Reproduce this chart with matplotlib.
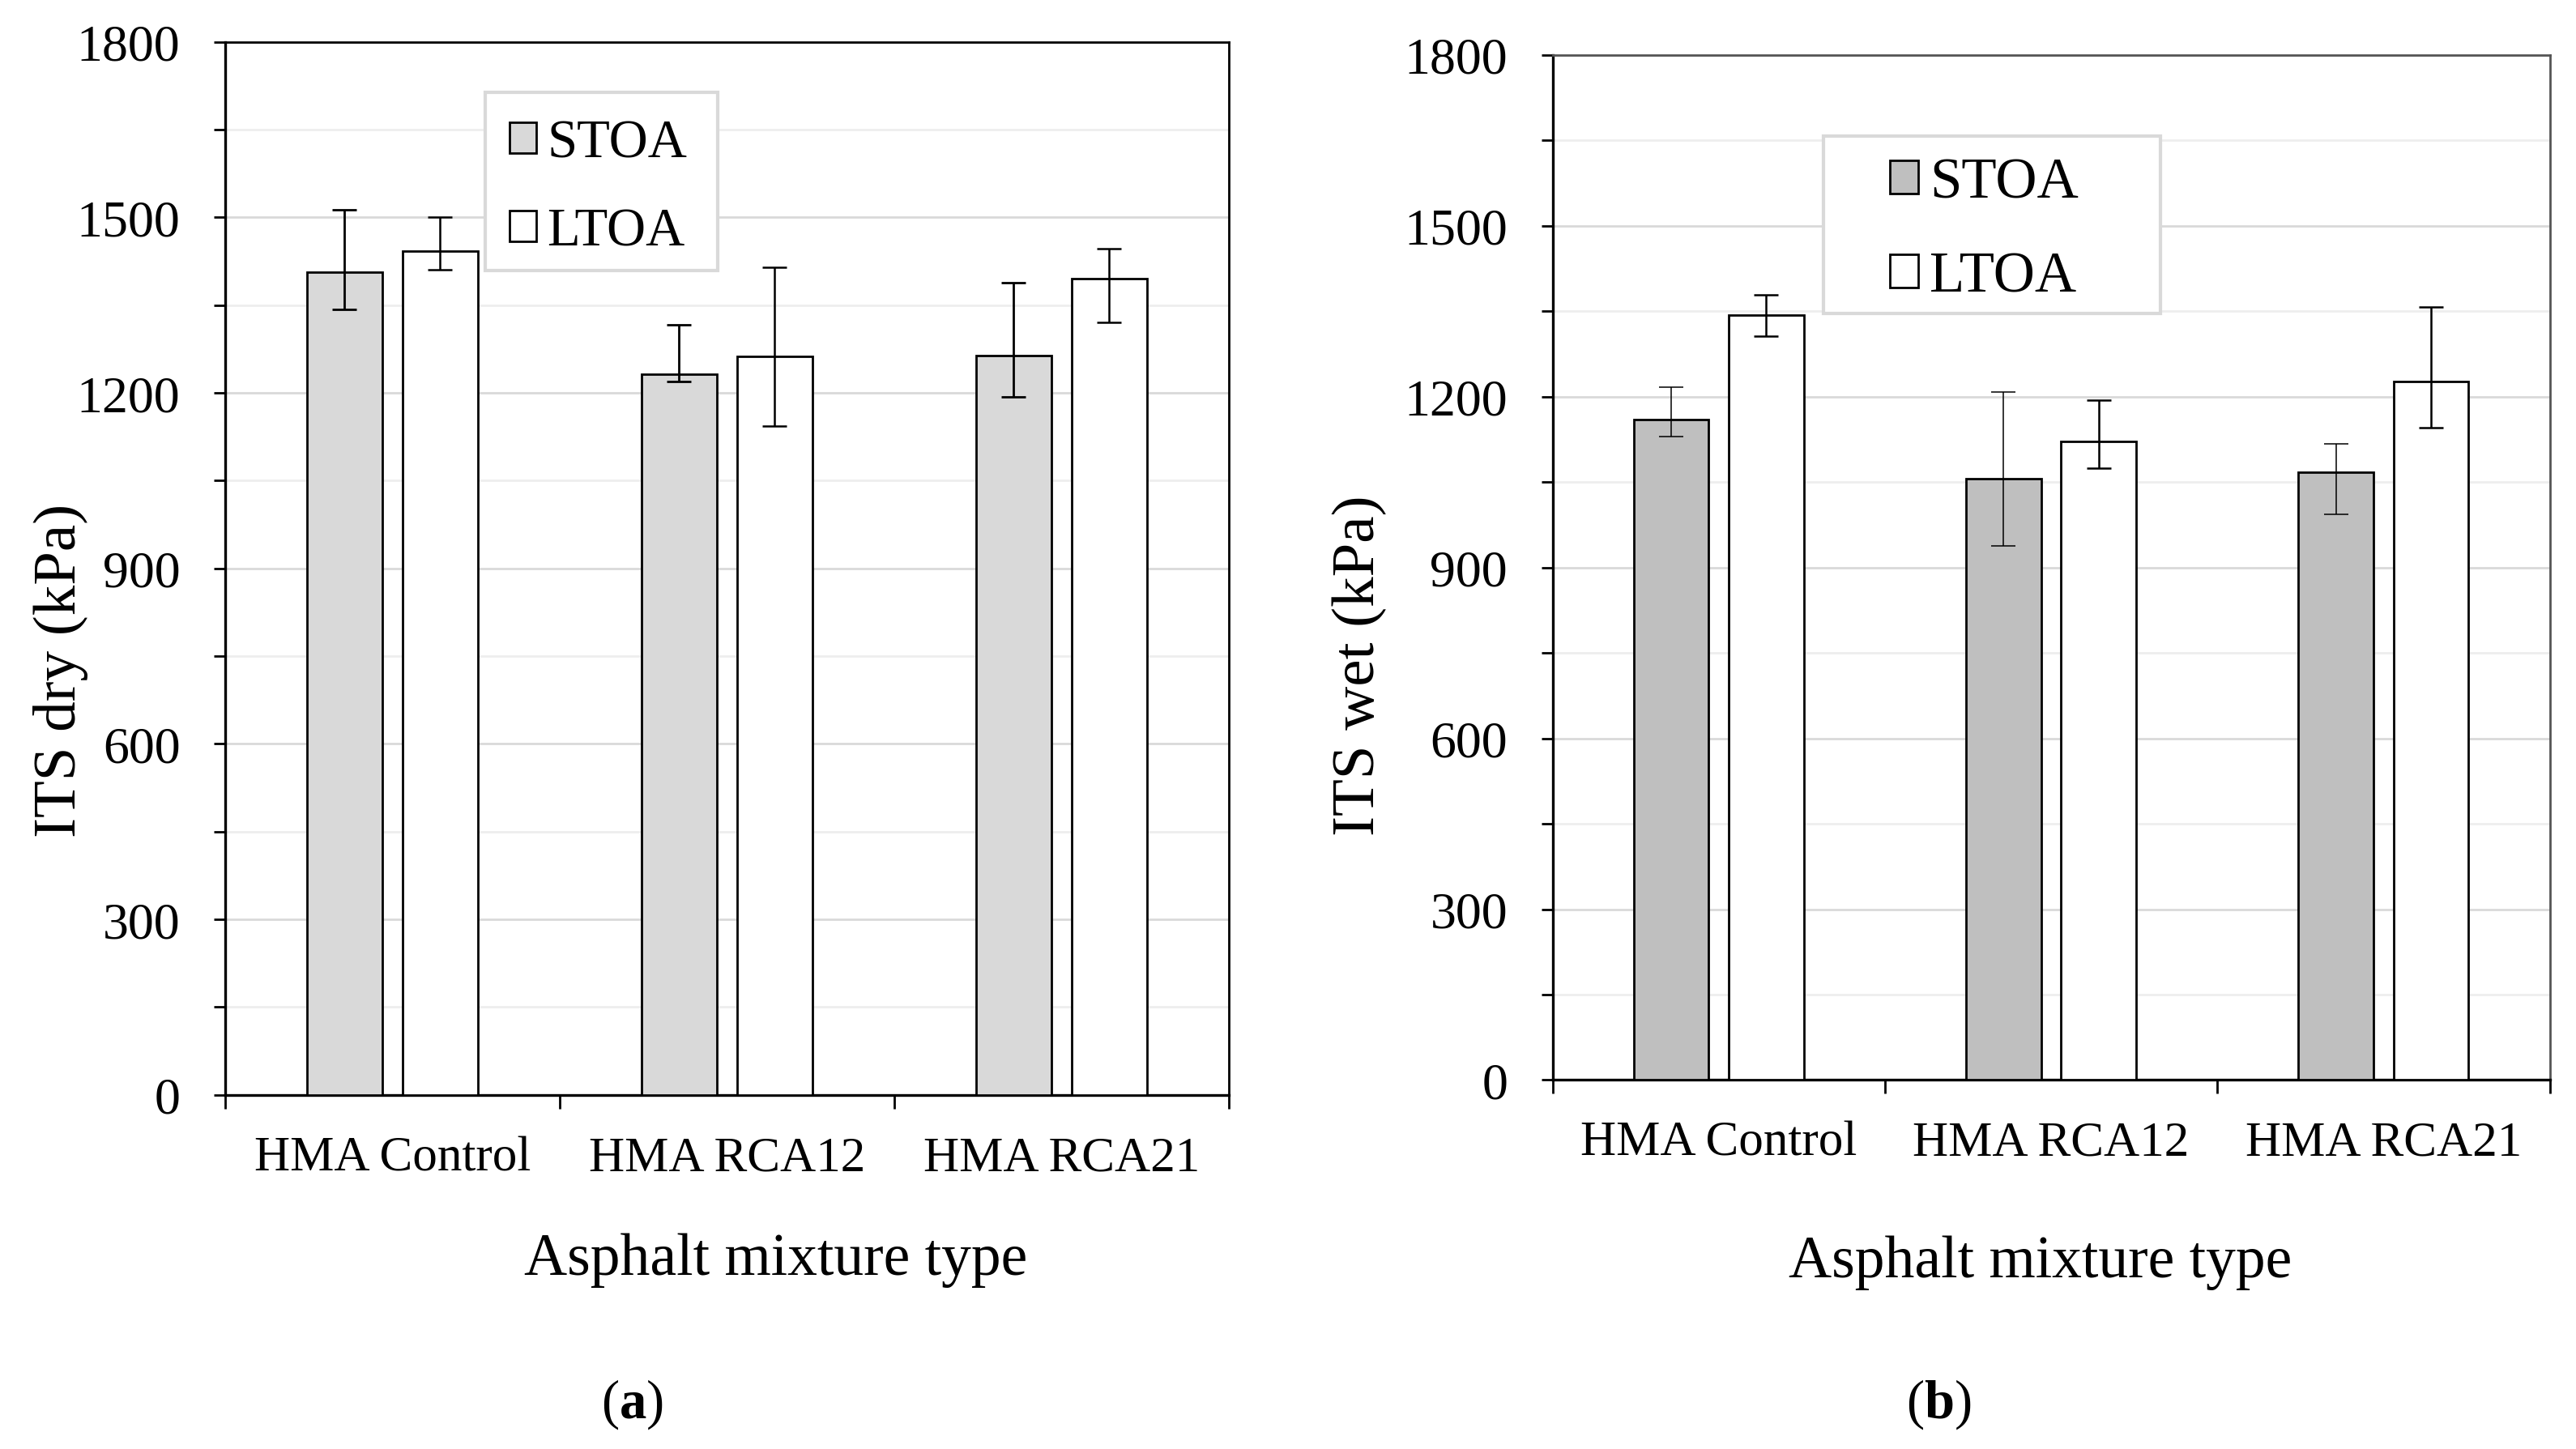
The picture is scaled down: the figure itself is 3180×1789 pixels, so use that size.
import matplotlib
matplotlib.use("Agg")
import matplotlib.pyplot as plt
import numpy as np
from matplotlib.patches import Patch, Rectangle

plt.rcParams['font.family'] = ['Liberation Serif', 'DejaVu Serif']
plt.rcParams['mathtext.fontset'] = 'custom'
plt.rcParams['mathtext.rm'] = 'Liberation Serif'
plt.rcParams['mathtext.bf'] = 'Liberation Serif:bold'

categories = ["HMA Control", "HMA RCA12", "HMA RCA21"]
series = ["STOA", "LTOA"]

# (a) ITS dry
dry_stoa = [1406, 1232, 1264]
dry_stoa_hi = [1513, 1317, 1389]
dry_stoa_lo = [1343, 1219, 1193]
dry_ltoa = [1442, 1262, 1396]
dry_ltoa_hi = [1501, 1415, 1446]
dry_ltoa_lo = [1411, 1144, 1320]

# (b) ITS wet
wet_stoa = [1160, 1056, 1068]
wet_stoa_hi = [1217, 1208, 1117]
wet_stoa_lo = [1130, 938, 993]
wet_ltoa = [1343, 1122, 1227]
wet_ltoa_hi = [1379, 1194, 1358]
wet_ltoa_lo = [1306, 1074, 1145]

yticks = [0, 300, 600, 900, 1200, 1500, 1800]

fig = plt.figure(figsize=(31.8, 17.9), dpi=100)

YTICK_FS = 46
XTICK_FS = 44
YLABEL_FS = 54
XLABEL_FS = 53


def panel(rect, stoa, s_hi, s_lo, ltoa, l_hi, l_lo, stoa_color, ylabel,
          ylab_pos, xlab_pos, leg_rect, leg_anchor, leg_fs, frame_color, s_elw):
    ax = fig.add_axes(rect)
    x = np.arange(len(categories)) + 0.5
    w = 0.226
    off = 0.143
    s = np.array(stoa); l = np.array(ltoa)
    s_err = [s - np.array(s_lo), np.array(s_hi) - s]
    l_err = [l - np.array(l_lo), np.array(l_hi) - l]
    ax.bar(x - off, s, w, color=stoa_color, edgecolor='black', linewidth=2.0,
           zorder=3, label=series[0])
    ax.bar(x + off, l, w, color='white', edgecolor='black', linewidth=2.0,
           zorder=3, label=series[1])
    ax.errorbar(x - off, s, yerr=s_err, fmt='none', ecolor='black',
                elinewidth=s_elw, capsize=11, capthick=s_elw, zorder=4)
    ax.errorbar(x + off, l, yerr=l_err, fmt='none', ecolor='black',
                elinewidth=1.8, capsize=11, capthick=1.8, zorder=4)
    ax.set_xlim(0, 3)
    ax.set_ylim(0, 1800)
    ax.set_yticks(yticks)
    ax.set_yticklabels([str(v) for v in yticks])
    ax.set_yticks(np.arange(150, 1800, 300), minor=True)
    ax.yaxis.grid(True, which='major', color='#d9d9d9', linewidth=2.0, zorder=0)
    ax.yaxis.grid(True, which='minor', color='#eeeeee', linewidth=2.0, zorder=0)
    ax.set_axisbelow(True)
    ax.set_xticks([0, 1, 2, 3])
    ax.set_xticklabels([])
    ax.set_xticks(x, minor=True)
    ax.set_xticklabels(categories, minor=True)
    ax.tick_params(axis='y', which='both', direction='out', length=10, width=2,
                   labelsize=YTICK_FS, pad=30)
    ax.tick_params(axis='x', which='major', direction='out', length=12, width=2)
    ax.tick_params(axis='x', which='minor', length=0, labelsize=XTICK_FS, pad=36)
    ax.spines['left'].set_linewidth(2.4)
    ax.spines['bottom'].set_linewidth(2.4)
    for sp in ['top', 'right']:
        ax.spines[sp].set_linewidth(2.0)
        ax.spines[sp].set_color(frame_color)
    ax.set_ylabel(ylabel, fontsize=YLABEL_FS)
    ax.yaxis.set_label_coords(ylab_pos[0], ylab_pos[1])
    ax.set_xlabel("Asphalt mixture type", fontsize=XLABEL_FS)
    ax.xaxis.set_label_coords(xlab_pos[0], xlab_pos[1])
    # legend frame
    ax.add_patch(Rectangle((leg_rect[0], leg_rect[1]), leg_rect[2], leg_rect[3],
                           transform=ax.transAxes, facecolor='white',
                           edgecolor='#d9d9d9', linewidth=3, zorder=5))
    handles = [Patch(facecolor=stoa_color, edgecolor='black', linewidth=2),
               Patch(facecolor='white', edgecolor='black', linewidth=2)]
    leg = ax.legend(handles, series, loc='center left', bbox_to_anchor=leg_anchor,
                    frameon=False, fontsize=leg_fs, handlelength=0.5,
                    handleheight=0.5, handletextpad=0.2, labelspacing=0.72,
                    borderpad=0, borderaxespad=0)
    leg.set_zorder(6)
    return ax


panel([0.0874, 0.2443, 0.3896, 0.7262], dry_stoa, dry_stoa_hi, dry_stoa_lo,
      dry_ltoa, dry_ltoa_hi, dry_ltoa_lo, '#d9d9d9', 'ITS dry (kPa)',
      (-0.136, 0.404), (0.549, -0.131), (0.259, 0.783, 0.232, 0.169),
      (0.283, 0.862), 48, 'black', 2.0)
panel([0.6027, 0.2545, 0.3871, 0.7070], wet_stoa, wet_stoa_hi, wet_stoa_lo,
      wet_ltoa, wet_ltoa_hi, wet_ltoa_lo, '#bfbfbf', 'ITS wet (kPa)',
      (-0.166, 0.405), (0.489, -0.151), (0.272, 0.748, 0.338, 0.173),
      (0.338, 0.829), 51, '#555555', 1.1)

fig.text(0.2455, 0.031, r"($\mathbf{a}$)", ha='center', va='center', fontsize=48)
fig.text(0.7526, 0.031, r"($\mathbf{b}$)", ha='center', va='center', fontsize=48)

fig.savefig("out.png", dpi=100, facecolor='white')
